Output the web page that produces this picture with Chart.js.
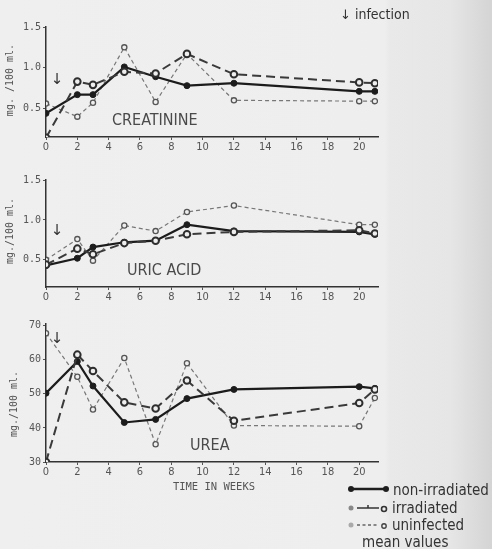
<!DOCTYPE html>
<html><head><meta charset="utf-8">
<script src="https://cdn.jsdelivr.net/npm/chart.js@4"></script>
<style>
html,body{margin:0;padding:0;}
body{width:492px;height:549px;position:relative;overflow:hidden;
 background:linear-gradient(to right,#efefef 0px,#eeeeee 385px,#e9e9e9 390px,#e6e6e6 450px,#d4d4d4 492px);
 font-family:'Liberation Sans Narrow','DejaVu Sans Condensed',sans-serif;color:#3a3a3a;}
canvas{position:absolute;left:0;}
.t{position:absolute;white-space:nowrap;line-height:1;}
.lab{font-size:16px;color:#4a4a4a;transform:translateY(-50%);}
.arr{font-family:'DejaVu Sans',sans-serif;font-size:15px;color:#333;transform:translate(-50%,-50%);}
.yt{font-family:'DejaVu Sans Mono',monospace;font-size:10px;color:#555;transform:translate(-50%,-50%) rotate(-90deg);}
.leg{font-size:15px;color:#333;transform:translateY(-50%);}
</style></head>
<body>
<canvas id="c1" width="392" height="157" style="top:0px"></canvas>
<canvas id="c2" width="392" height="150" style="top:157px"></canvas>
<canvas id="c3" width="392" height="175" style="top:307px"></canvas>

<div class="t yt" style="left:10px;top:80px">mg. /100 ml.</div>
<div class="t yt" style="left:10px;top:231px">mg./100 ml.</div>
<div class="t yt" style="left:14px;top:404px">mg./100 ml.</div>

<div class="t lab" style="left:112px;top:120px">CREATININE</div>
<div class="t lab" style="left:127px;top:270px">URIC ACID</div>
<div class="t lab" style="left:190px;top:445px">UREA</div>

<div class="t arr" style="left:57px;top:79px">↓</div>
<div class="t arr" style="left:57px;top:230px">↓</div>
<div class="t arr" style="left:57px;top:338px">↓</div>

<div class="t" style="left:340px;top:7px;font-size:14px;color:#333;"><span style="font-family:'DejaVu Sans',sans-serif;font-size:13px">↓</span> infection</div>

<div class="t" style="left:214px;top:486px;transform:translate(-50%,-50%);font-family:'DejaVu Sans Mono',monospace;font-size:10.5px;color:#555;">TIME IN WEEKS</div>

<svg style="position:absolute;left:346px;top:483px" width="46" height="12">
 <line x1="5" y1="6" x2="40" y2="6" stroke="#1e1e1e" stroke-width="2.5"/>
 <circle cx="5" cy="6" r="3" fill="#1e1e1e"/><circle cx="40" cy="6" r="3" fill="#1e1e1e"/>
</svg>
<div class="t leg" style="left:393px;top:490px">non-irradiated</div>
<svg style="position:absolute;left:346px;top:502px" width="46" height="12">
 <circle cx="5" cy="6" r="2.5" fill="#888"/>
 <line x1="11" y1="6" x2="33" y2="6" stroke="#333" stroke-width="1.5"/>
 <line x1="22" y1="3" x2="22" y2="6" stroke="#333" stroke-width="1.5"/>
 <circle cx="38" cy="7" r="2.5" fill="none" stroke="#333" stroke-width="1.6"/>
</svg>
<div class="t leg" style="left:392px;top:508px">irradiated</div>
<svg style="position:absolute;left:346px;top:519px" width="46" height="12">
 <circle cx="5" cy="6" r="2.5" fill="#aaa"/>
 <line x1="11" y1="6" x2="33" y2="6" stroke="#666" stroke-width="1.3" stroke-dasharray="3,2.5"/>
 <circle cx="38" cy="7" r="2.2" fill="none" stroke="#444" stroke-width="1.4"/>
</svg>
<div class="t leg" style="left:392px;top:525px">uninfected</div>
<div class="t leg" style="left:362px;top:542px">mean values</div>

<script>
// ---- data ----
const weeks = [0, 2, 3, 5, 7, 9, 12, 20, 21];
const xTicks = [0, 2, 4, 6, 8, 10, 12, 14, 16, 18, 20];

const creatNonIrr  = [0.44, 0.67, 0.67, 1.01, 0.89, 0.78, 0.81, 0.71, 0.71];
const creatIrr     = [0.14, 0.83, 0.79, 0.95, 0.93, 1.17, 0.92, 0.82, 0.81];
const creatUninf   = [0.56, 0.40, 0.57, 1.25, 0.58, 1.17, 0.60, 0.59, 0.59];
const creatYTicks  = [0.5, 1.0, 1.5];

const uricNonIrr   = [0.43, 0.52, 0.66, 0.72, 0.74, 0.94, 0.86, 0.85, 0.82];
const uricIrr      = [0.44, 0.64, 0.57, 0.71, 0.74, 0.82, 0.85, 0.87, 0.83];
const uricUninf    = [0.50, 0.76, 0.49, 0.93, 0.86, 1.10, 1.18, 0.94, 0.94];
const uricYTicks   = [0.5, 1.0, 1.5];

const ureaNonIrr   = [50.2, 59.5, 52.3, 41.6, 42.5, 48.6, 51.3, 52.1, 51.6];
const ureaIrr      = [30.0, 61.5, 56.7, 47.5, 45.7, 53.9, 42.1, 47.3, 51.3];
const ureaUninf    = [67.8, 55.0, 45.4, 60.5, 35.2, 59.0, 40.7, 40.5, 48.8];
const ureaYTicks   = [30, 40, 50, 60, 70];

const seriesNames = ['non-irradiated', 'irradiated', 'uninfected'];

// ---- drawing ----
const FONT_X = "'Liberation Sans Narrow','DejaVu Sans Condensed',sans-serif";
const FONT_Y = "'DejaVu Sans Mono',monospace";

function pts(vals){ return weeks.map((w,i)=>({x:w, y:vals[i]})); }

function makeChart(id, nonIrr, irr, uninf, yMin, yMax, yTicks, decimals, padTop){
  new Chart(document.getElementById(id), {
    type: 'line',
    data: { datasets: [
      { label: seriesNames[0], data: pts(nonIrr), order: 1,
        borderColor:'#1c1c1c', borderWidth:2.2, tension:0, fill:false,
        pointRadius:3, pointBackgroundColor:'#1c1c1c', pointBorderColor:'#1c1c1c', pointBorderWidth:1 },
      { label: seriesNames[1], data: pts(irr), order: 0,
        borderColor:'#3a3a3a', borderWidth:2, borderDash:[9,5], tension:0, fill:false,
        pointRadius:3.3, pointBackgroundColor:'#eeeeee', pointBorderColor:'#2e2e2e', pointBorderWidth:2 },
      { label: seriesNames[2], data: pts(uninf), order: 2,
        borderColor:'#777777', borderWidth:1.2, borderDash:[4,3], tension:0, fill:false,
        pointRadius:2.6, pointBackgroundColor:'#eeeeee', pointBorderColor:'#555555', pointBorderWidth:1.3 }
    ]},
    options: {
      responsive:false, animation:false, devicePixelRatio:1,
      layout:{ padding:{ top:padTop, right:14, bottom:0, left:0 } },
      plugins:{ legend:{display:false}, tooltip:{enabled:false} },
      scales:{
        x:{ type:'linear', min:0, max:21.2,
            afterBuildTicks: s => { s.ticks = xTicks.map(v=>({value:v})); },
            afterFit: s => { s.height = 20; },
            ticks:{ color:'#555', font:{size:11, family:FONT_X}, padding:1, maxRotation:0, autoSkip:false },
            grid:{ drawOnChartArea:false, tickLength:3, color:'#555' },
            border:{ color:'#333', width:1.5 } },
        y:{ type:'linear', min:yMin, max:yMax,
            afterBuildTicks: s => { s.ticks = yTicks.map(v=>({value:v})); },
            afterFit: s => { s.width = 46; },
            ticks:{ color:'#555', font:{size:10, family:FONT_Y}, padding:2,
                    callback: v => Number(v).toFixed(decimals) },
            grid:{ drawOnChartArea:false, tickLength:3, color:'#555' },
            border:{ color:'#333', width:1.5 } }
      }
    }
  });
}

makeChart('c1', creatNonIrr, creatIrr, creatUninf, 0.15, 1.5, creatYTicks, 1, 27);
makeChart('c2', uricNonIrr, uricIrr, uricUninf, 0.16, 1.5, uricYTicks, 1, 23);
makeChart('c3', ureaNonIrr, ureaIrr, ureaUninf, 30, 70.5, ureaYTicks, 0, 17);
</script>
</body></html>
